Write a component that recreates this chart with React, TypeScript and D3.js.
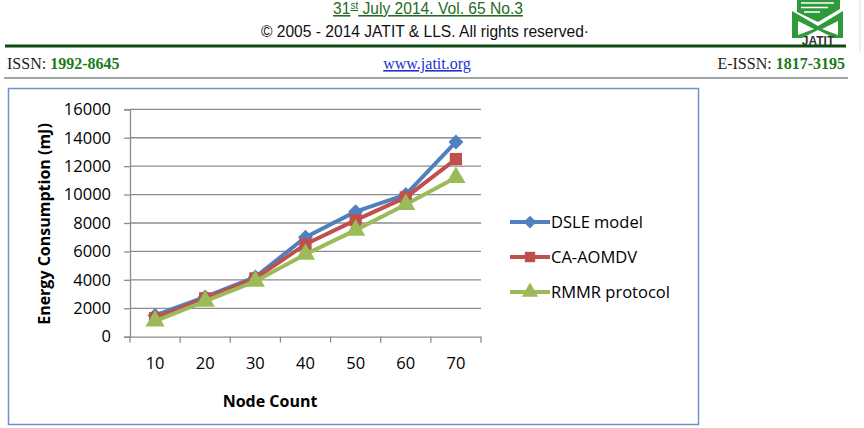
import React, { useEffect, useRef } from 'react';
import * as d3 from 'd3';

const nodeCounts = ['10', '20', '30', '40', '50', '60', '70'];
const dsleModel = [1500, 2800, 4200, 7000, 8800, 10000, 13700];
const caAomdv = [1300, 2700, 4100, 6500, 8200, 9800, 12500];
const rmmrProtocol = [1100, 2500, 3900, 5800, 7500, 9300, 11200];
const yTicks = [0, 2000, 4000, 6000, 8000, 10000, 12000, 14000, 16000];

const series = [
  { name: 'DSLE model', values: dsleModel, color: '#4F81BD', shape: 'diamond' },
  { name: 'CA-AOMDV', values: caAomdv, color: '#C0504D', shape: 'square' },
  { name: 'RMMR protocol', values: rmmrProtocol, color: '#9BBB59', shape: 'triangle' }
];

const W = 864;
const H = 428;
const FONT = '"Open Sans", "Noto Sans", sans-serif';
const SERIF = '"Liberation Serif", "Times New Roman", serif';
const SANS = '"Liberation Sans", Arial, sans-serif';

// excel-like markers
const symbolFor = (shape: string) => {
  if (shape === 'diamond') return 'M0,-7.5L7.5,0L0,7.5L-7.5,0Z';
  if (shape === 'square') return d3.symbol().type(d3.symbolSquare).size(150)();
  return d3.symbol().type(d3.symbolTriangle).size(160)();
};

const App = () => {
  const ref = useRef<SVGSVGElement>(null);

  useEffect(() => {
    const svg = d3.select(ref.current);
    svg.selectAll('*').remove();

    // ---- page header ----
    const title = svg.append('text')
      .attr('x', 428).attr('y', 14)
      .attr('text-anchor', 'middle')
      .attr('font-family', SANS)
      .attr('font-size', 15.6)
      .attr('fill', '#1f6b1f')
      .attr('text-decoration', 'underline');
    title.append('tspan').text('31');
    title.append('tspan').attr('font-size', 10).attr('dy', -5).text('st');
    title.append('tspan').attr('dy', 5).text(' July 2014. Vol. 65 No.3');

    svg.append('text')
      .attr('x', 425).attr('y', 37)
      .attr('text-anchor', 'middle')
      .attr('font-family', SANS)
      .attr('font-size', 15.6)
      .attr('fill', '#111')
      .text('© 2005 - 2014 JATIT & LLS. All rights reserved·');

    // logo (simplified)
    const logo = svg.append('g');
    logo.append('path')
      .attr('d', 'M797,0 L840,0 L840,9 L818,22 L797,12 Z')
      .attr('fill', '#2e9a3a');
    logo.append('path')
      .attr('d', 'M801,3 L834,3 M801,7.5 L828,7.5 M804,12 L820,12')
      .attr('stroke', '#fff').attr('stroke-width', 1.6);
    logo.append('path')
      .attr('d', 'M792,11 L818,26 L843,11 L843,38 L834,38 L818,30 L802,38 L792,38 Z')
      .attr('fill', '#2e9a3a');
    logo.append('path')
      .attr('d', 'M798,21 L814,29 L798,35 Z M838,21 L822,29 L838,35 Z')
      .attr('fill', '#fff');
    logo.append('text')
      .attr('x', 818).attr('y', 45)
      .attr('text-anchor', 'middle')
      .attr('font-family', SANS)
      .attr('font-weight', 'bold')
      .attr('font-size', 12)
      .attr('fill', '#333')
      .text('JATIT');
    svg.append('line')
      .attr('x1', 860).attr('x2', 860).attr('y1', 0).attr('y2', 52)
      .attr('stroke', '#ddd').attr('stroke-width', 1);

    svg.append('line')
      .attr('x1', 5).attr('x2', 846).attr('y1', 46).attr('y2', 46)
      .attr('stroke', '#0d4a12').attr('stroke-width', 3);

    const issn = svg.append('text')
      .attr('x', 7).attr('y', 69)
      .attr('font-family', SERIF)
      .attr('font-size', 16)
      .attr('fill', '#222');
    issn.append('tspan').text('ISSN: ');
    issn.append('tspan').attr('font-weight', 'bold').attr('fill', '#1a7a1a').text('1992-8645');

    svg.append('text')
      .attr('x', 427).attr('y', 69)
      .attr('text-anchor', 'middle')
      .attr('font-family', SERIF)
      .attr('font-size', 16)
      .attr('fill', '#2233cc')
      .attr('text-decoration', 'underline')
      .text('www.jatit.org');

    const eissn = svg.append('text')
      .attr('x', 845).attr('y', 69)
      .attr('text-anchor', 'end')
      .attr('font-family', SERIF)
      .attr('font-size', 16)
      .attr('fill', '#222');
    eissn.append('tspan').text('E-ISSN: ');
    eissn.append('tspan').attr('font-weight', 'bold').attr('fill', '#1a7a1a').text('1817-3195');

    svg.append('line')
      .attr('x1', 4).attr('x2', 848).attr('y1', 78).attr('y2', 78)
      .attr('stroke', '#7f8a86').attr('stroke-width', 1.5);

    // ---- chart box ----
    svg.append('rect')
      .attr('x', 8.5).attr('y', 88.5)
      .attr('width', 690).attr('height', 336)
      .attr('fill', '#fff')
      .attr('stroke', '#6f94c8').attr('stroke-width', 1.5);

    const x = d3.scaleBand()
      .domain(nodeCounts)
      .range([130, 481])
      .padding(0);

    const y = d3.scaleLinear()
      .domain([0, 16000])
      .range([336.7, 109.3]);

    // gridlines
    svg.append('g')
      .selectAll('line')
      .data(yTicks.filter(d => d > 0))
      .enter()
      .append('line')
      .attr('x1', 130).attr('x2', 481)
      .attr('y1', d => y(d)).attr('y2', d => y(d))
      .attr('stroke', '#8c8c8c').attr('stroke-width', 1.3);

    // y axis
    const yAxis = svg.append('g')
      .attr('transform', 'translate(130,0)')
      .call(d3.axisLeft(y).tickValues(yTicks).tickSize(6).tickPadding(13).tickFormat(d3.format('d')));
    yAxis.select('.domain').attr('stroke', '#8c8c8c').attr('stroke-width', 1.3);
    yAxis.selectAll('.tick line').attr('stroke', '#8c8c8c').attr('stroke-width', 1.3);
    yAxis.selectAll('text')
      .attr('font-family', FONT)
      .attr('font-size', 16.5)
      .attr('fill', '#000');

    // x axis
    const xAxis = svg.append('g')
      .attr('transform', `translate(0,${y(0)})`)
      .call(d3.axisBottom(x).tickSize(0).tickPadding(21));
    xAxis.select('.domain').attr('stroke', '#8c8c8c').attr('stroke-width', 1.3);
    xAxis.selectAll('text')
      .attr('font-family', FONT)
      .attr('font-size', 16.5)
      .attr('fill', '#000');
    svg.append('g')
      .selectAll('line')
      .data(nodeCounts.concat(['end']))
      .enter()
      .append('line')
      .attr('x1', (d, i) => 130 + i * x.bandwidth())
      .attr('x2', (d, i) => 130 + i * x.bandwidth())
      .attr('y1', y(0)).attr('y2', y(0) + 6)
      .attr('stroke', '#8c8c8c').attr('stroke-width', 1.3);

    // axis titles
    svg.append('text')
      .attr('transform', `translate(50,${224}) rotate(-90)`)
      .attr('text-anchor', 'middle')
      .attr('font-family', FONT)
      .attr('font-weight', 'bold')
      .attr('font-size', 16)
      .attr('fill', '#000')
      .text('Energy Consumption (mJ)');

    svg.append('text')
      .attr('x', 270).attr('y', 407)
      .attr('text-anchor', 'middle')
      .attr('font-family', FONT)
      .attr('font-weight', 'bold')
      .attr('font-size', 16)
      .attr('fill', '#000')
      .text('Node Count');

    // series
    const line = d3.line<number>()
      .x((d, i) => (x(nodeCounts[i]) as number) + x.bandwidth() / 2)
      .y(d => y(d));

    series.forEach(s => {
      svg.append('path')
        .datum(s.values)
        .attr('d', line)
        .attr('fill', 'none')
        .attr('stroke', s.color)
        .attr('stroke-width', 4)
        .attr('stroke-linejoin', 'round');
      svg.append('g')
        .selectAll('path')
        .data(s.values)
        .enter()
        .append('path')
        .attr('d', symbolFor(s.shape))
        .attr('transform', (d, i) =>
          `translate(${(x(nodeCounts[i]) as number) + x.bandwidth() / 2},${y(d)})`)
        .attr('fill', s.color);
    });

    // legend
    const legend = svg.append('g')
      .selectAll('g')
      .data(series)
      .enter()
      .append('g')
      .attr('transform', (d, i) => `translate(510,${222 + i * 35})`);
    legend.append('line')
      .attr('x1', 0).attr('x2', 40)
      .attr('stroke', d => d.color)
      .attr('stroke-width', 4);
    legend.append('path')
      .attr('d', d => symbolFor(d.shape))
      .attr('transform', 'translate(20,0) scale(0.85)')
      .attr('fill', d => d.color);
    legend.append('text')
      .attr('x', 41).attr('y', 0)
      .attr('dy', '0.35em')
      .attr('font-family', FONT)
      .attr('font-size', 16.5)
      .attr('fill', '#000')
      .text(d => d.name);
  }, []);

  return (
    <svg
      ref={ref}
      width={W}
      height={H}
      style={{ position: 'absolute', left: 0, top: 0, background: '#fff' }}
    />
  );
};

export default App;
